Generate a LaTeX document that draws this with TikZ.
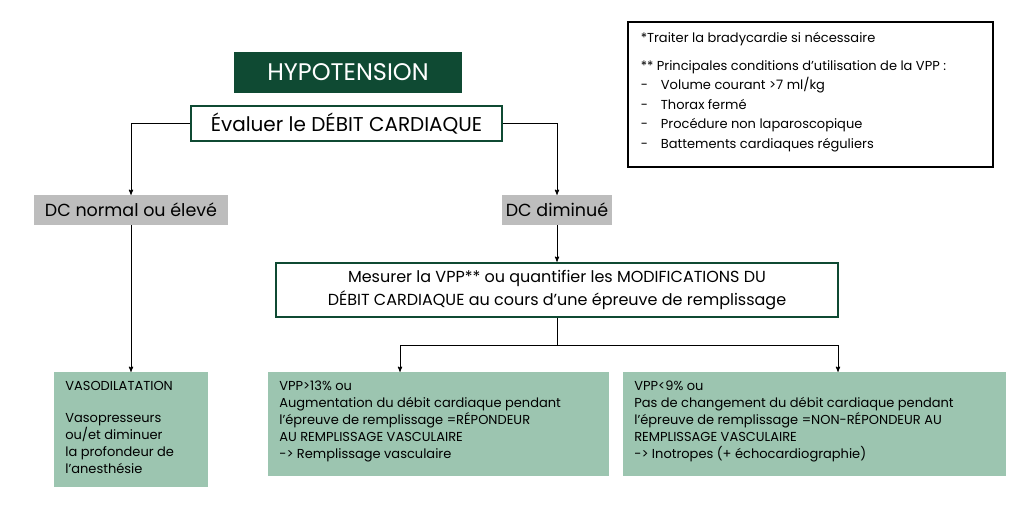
\documentclass[tikz,border=0pt]{standalone}
\usepackage{fontspec}
\setmainfont{Poppins}
\usetikzlibrary{arrows}
\definecolor{darkgreen}{HTML}{0F4A33}
\definecolor{sage}{HTML}{9CC5B0}
\definecolor{greybox}{HTML}{BDBDBD}
\tikzset{
    gbox/.style={draw=darkgreen,line width=2.5pt,fill=white,inner sep=0pt},
    dcbox/.style={fill=greybox,inner sep=0pt},
    resbox/.style={fill=sage,inner sep=0pt},
    restext/.style={anchor=north west,align=left,font=\fontsize{13}{17}\selectfont},
    link/.style={line width=0.9pt},
    arr/.style={link,-stealth'}
}
\begin{document}
\begin{tikzpicture}[x=1pt,y=-1pt]
        \useasboundingbox (0,0) rectangle (1024,514);
        % titre
        \node [fill=darkgreen,minimum width=228pt,minimum height=41pt,text=white,font=\fontsize{24}{28}\selectfont] (hypo) at (348,72.5) {HYPOTENSION};
        \node [gbox,minimum width=311pt,minimum height=35pt,font=\fontsize{20}{24}\selectfont] (eval) at (346.5,123.5) {Évaluer le DÉBIT CARDIAQUE};
        \node [dcbox,minimum width=194pt,minimum height=30pt,font=\fontsize{17.5}{20}\selectfont] (dcn) at (131,210) {DC normal ou élevé};
        \node [dcbox,minimum width=110pt,minimum height=30pt,font=\fontsize{17.5}{20}\selectfont] (dcd) at (557,210) {DC diminué};
        \node [gbox,minimum width=562pt,minimum height=54pt,align=center,font=\fontsize{16}{23}\selectfont] (vpp) at (557,290) {Mesurer la VPP** ou quantifier les MODIFICATIONS DU\\DÉBIT CARDIAQUE au cours d'une épreuve de remplissage};
        % boites resultats
        \node [resbox,minimum width=154pt,minimum height=115pt] (vaso) at (131,429.5) {};
        \node [restext] at ([xshift=8pt,yshift=-6pt]vaso.north west) {VASODILATATION\\[15pt]Vasopresseurs\\ou/et diminuer\\la profondeur de\\l'anesthésie};
        \node [resbox,minimum width=341pt,minimum height=104pt] (rep) at (438.5,424) {};
        \node [restext] at ([xshift=8pt,yshift=-6pt]rep.north west) {VPP>13\% ou\\Augmentation du débit cardiaque pendant\\l'épreuve de remplissage =RÉPONDEUR\\AU REMPLISSAGE VASCULAIRE\\-> Remplissage vasculaire};
        \node [resbox,minimum width=383pt,minimum height=104pt] (nonrep) at (814.5,424) {};
        \node [restext] at ([xshift=8pt,yshift=-6pt]nonrep.north west) {VPP<9\% ou\\Pas de changement du débit cardiaque pendant\\l'épreuve de remplissage =NON-RÉPONDEUR AU\\REMPLISSAGE VASCULAIRE\\-> Inotropes (+ échocardiographie)};
        % note
        \node [draw,line width=1.5pt,minimum width=365pt,minimum height=145pt] (note) at (810.5,94.5) {};
        \node [anchor=north west,align=left,font=\fontsize{13}{19.5}\selectfont] at ([xshift=10pt,yshift=-8pt]note.north west) {*Traiter la bradycardie si nécessaire\\[8pt]** Principales conditions d'utilisation de la VPP :\\-\quad Volume courant >7 ml/kg\\-\quad Thorax fermé\\-\quad Procédure non laparoscopique\\-\quad Battements cardiaques réguliers};
        % liaisons
        \draw [arr] (eval.west) -| (dcn.north);
        \draw [arr] (eval.east) -| (dcd.north);
        \draw [arr] (dcd.south) -- (vpp.north);
        \draw [arr] (dcn.south) -- (vaso.north);
        \coordinate (split) at (557,345);
        \draw [link] (vpp.south) -- (split);
        \draw [arr] (split) -| ([xshift=-38.5pt]rep.north);
        \draw [arr] (split) -| ([xshift=23.5pt]nonrep.north);
\end{tikzpicture}
\end{document}
